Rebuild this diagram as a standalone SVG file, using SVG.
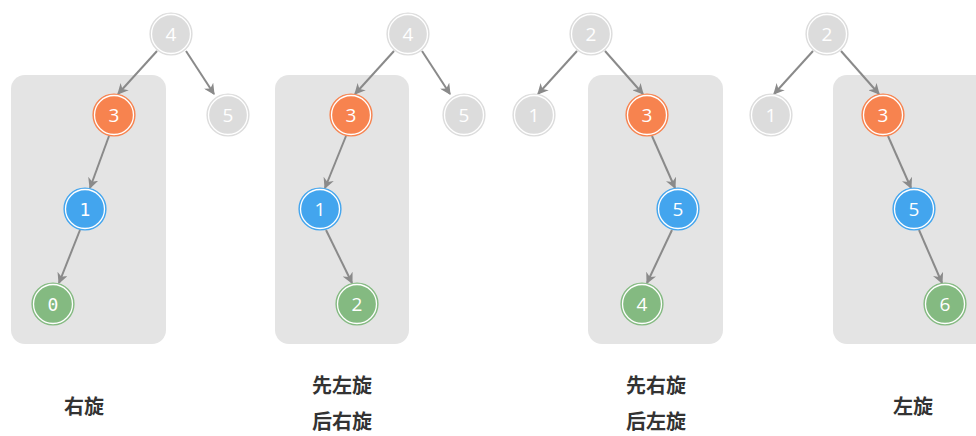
<svg xmlns="http://www.w3.org/2000/svg" width="976" height="436" viewBox="0 0 976 436">
<defs>
<style>
.box{fill:#e4e4e4}
.n circle.o{stroke-width:1.2}
.n circle.i{fill:none;stroke:#fff;stroke-width:1.3}
.n text{font-family:"Open Sans","Noto Sans","DejaVu Sans",sans-serif;font-size:19px;fill:#fff;text-anchor:middle;dominant-baseline:central}
.mono text{font-family:"DejaVu Sans Mono",monospace;font-size:18px}
.g circle.o{fill:#dcdcdc;stroke:#dcdcdc}
.r circle.o{fill:#f7834f;stroke:#f7834f}
.b circle.o{fill:#43a5ee;stroke:#43a5ee}
.gr circle.o{fill:#84ba81;stroke:#84ba81}
.e{stroke:#8a8a8a;stroke-width:2;fill:none;marker-end:url(#arr)}
.lbl{font-family:"Noto Sans CJK SC","Noto Sans",sans-serif;font-size:20px;font-weight:bold;fill:#333;text-anchor:middle}
</style>
<marker id="arr" viewBox="0 0 10 10" refX="9" refY="5" markerWidth="5.5" markerHeight="5.5" orient="auto" markerUnits="strokeWidth">
<path d="M0,0 L10,5 L0,10 L3,5 Z" fill="#8a8a8a"/>
</marker>
</defs>

<g id="panels">
<rect class="box" x="11" y="75" width="155" height="269" rx="14"/>
<rect class="box" x="275" y="75" width="134" height="269" rx="14"/>
<rect class="box" x="588" y="75" width="135" height="269" rx="14"/>
<rect class="box" x="833" y="75" width="160" height="269" rx="14"/>
</g>

<g id="connectors">
<line class="e" x1="157" y1="51" x2="118" y2="94"/>
<line class="e" x1="186" y1="51" x2="214" y2="94"/>
<line class="e" x1="109" y1="136" x2="90" y2="188"/>
<line class="e" x1="80" y1="230" x2="59" y2="283"/>
<line class="e" x1="394" y1="51" x2="355" y2="94"/>
<line class="e" x1="422" y1="51" x2="450" y2="94"/>
<line class="e" x1="346" y1="136" x2="325" y2="188"/>
<line class="e" x1="326" y1="230" x2="352" y2="283"/>
<line class="e" x1="577" y1="51" x2="538" y2="94"/>
<line class="e" x1="605" y1="51" x2="643" y2="94"/>
<line class="e" x1="652" y1="136" x2="675" y2="188"/>
<line class="e" x1="672" y1="230" x2="647" y2="283"/>
<line class="e" x1="813" y1="51" x2="774" y2="94"/>
<line class="e" x1="841" y1="51" x2="879" y2="94"/>
<line class="e" x1="888" y1="136" x2="911" y2="188"/>
<line class="e" x1="919" y1="230" x2="942" y2="283"/>
</g>

<g id="p1-n4" class="n g"><circle class="o" cx="171" cy="34" r="21"/><circle class="i" cx="171" cy="34" r="19.5"/><text x="171" y="34">4</text></g>
<g id="p1-n3" class="n r"><circle class="o" cx="114" cy="115" r="21"/><circle class="i" cx="114" cy="115" r="19.5"/><text x="114" y="115">3</text></g>
<g id="p1-n5" class="n g"><circle class="o" cx="228" cy="115" r="21"/><circle class="i" cx="228" cy="115" r="19.5"/><text x="228" y="115">5</text></g>
<g id="p1-n1" class="n b mono"><circle class="o" cx="85" cy="209" r="21"/><circle class="i" cx="85" cy="209" r="19.5"/><text x="85" y="209">1</text></g>
<g id="p1-n0" class="n gr mono"><circle class="o" cx="53" cy="304" r="21"/><circle class="i" cx="53" cy="304" r="19.5"/><text x="53" y="304">0</text></g>

<g id="p2-n4" class="n g"><circle class="o" cx="408" cy="34" r="21"/><circle class="i" cx="408" cy="34" r="19.5"/><text x="408" y="34">4</text></g>
<g id="p2-n3" class="n r"><circle class="o" cx="351" cy="115" r="21"/><circle class="i" cx="351" cy="115" r="19.5"/><text x="351" y="115">3</text></g>
<g id="p2-n5" class="n g"><circle class="o" cx="464" cy="115" r="21"/><circle class="i" cx="464" cy="115" r="19.5"/><text x="464" y="115">5</text></g>
<g id="p2-n1" class="n b"><circle class="o" cx="320" cy="209" r="21"/><circle class="i" cx="320" cy="209" r="19.5"/><text x="320" y="209">1</text></g>
<g id="p2-n2" class="n gr"><circle class="o" cx="357" cy="304" r="21"/><circle class="i" cx="357" cy="304" r="19.5"/><text x="357" y="304">2</text></g>

<g id="p3-n2" class="n g"><circle class="o" cx="591" cy="34" r="21"/><circle class="i" cx="591" cy="34" r="19.5"/><text x="591" y="34">2</text></g>
<g id="p3-n1" class="n g"><circle class="o" cx="534" cy="115" r="21"/><circle class="i" cx="534" cy="115" r="19.5"/><text x="534" y="115">1</text></g>
<g id="p3-n3" class="n r"><circle class="o" cx="647" cy="115" r="21"/><circle class="i" cx="647" cy="115" r="19.5"/><text x="647" y="115">3</text></g>
<g id="p3-n5" class="n b"><circle class="o" cx="678" cy="209" r="21"/><circle class="i" cx="678" cy="209" r="19.5"/><text x="678" y="209">5</text></g>
<g id="p3-n4" class="n gr"><circle class="o" cx="642" cy="304" r="21"/><circle class="i" cx="642" cy="304" r="19.5"/><text x="642" y="304">4</text></g>

<g id="p4-n2" class="n g"><circle class="o" cx="827" cy="34" r="21"/><circle class="i" cx="827" cy="34" r="19.5"/><text x="827" y="34">2</text></g>
<g id="p4-n1" class="n g"><circle class="o" cx="771" cy="115" r="21"/><circle class="i" cx="771" cy="115" r="19.5"/><text x="771" y="115">1</text></g>
<g id="p4-n3" class="n r"><circle class="o" cx="883" cy="115" r="21"/><circle class="i" cx="883" cy="115" r="19.5"/><text x="883" y="115">3</text></g>
<g id="p4-n5" class="n b"><circle class="o" cx="914" cy="209" r="21"/><circle class="i" cx="914" cy="209" r="19.5"/><text x="914" y="209">5</text></g>
<g id="p4-n6" class="n gr"><circle class="o" cx="945" cy="304" r="21"/><circle class="i" cx="945" cy="304" r="19.5"/><text x="945" y="304">6</text></g>

<g id="labels">
<text class="lbl" x="84" y="414">右旋</text>
<text class="lbl" x="342" y="393">先左旋</text>
<text class="lbl" x="342" y="429">后右旋</text>
<text class="lbl" x="656" y="393">先右旋</text>
<text class="lbl" x="656" y="429">后左旋</text>
<text class="lbl" x="913" y="414">左旋</text>
</g>
</svg>
